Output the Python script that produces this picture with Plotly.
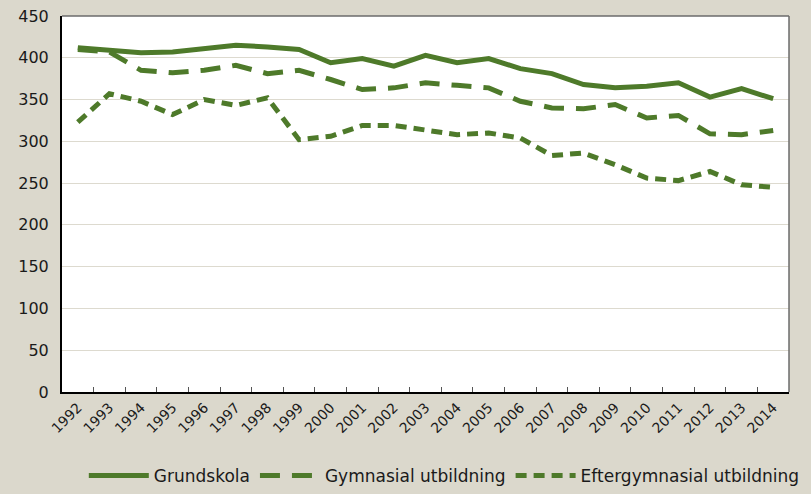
import plotly.graph_objects as go

years = [str(y) for y in range(1992, 2015)]

grundskola = [412, 409, 406, 407, 411, 415, 413, 410, 394, 399, 390, 403, 394, 399,
              387, 381, 368, 364, 366, 370, 353, 363, 351]
gymnasial = [410, 407, 385, 382, 385, 391, 381, 385, 374, 362, 364, 370, 367, 364,
             348, 340, 339, 344, 328, 331, 309, 308, 313]
eftergymnasial = [323, 357, 348, 332, 350, 343, 352, 302, 306, 319, 319, 314, 308, 310,
                  304, 283, 286, 272, 256, 253, 264, 248, 245]

green = "#4E7A2A"
bg = "#DBD8CC"
font = "DejaVu Sans"

fig = go.Figure()
fig.add_trace(go.Scatter(x=years, y=grundskola, mode="lines", name="Grundskola",
                         line=dict(color=green, width=5)))
fig.add_trace(go.Scatter(x=years, y=gymnasial, mode="lines", name="Gymnasial utbildning",
                         line=dict(color=green, width=5, dash="20px,12px")))
fig.add_trace(go.Scatter(x=years, y=eftergymnasial, mode="lines", name="Eftergymnasial utbildning",
                         line=dict(color=green, width=5, dash="11px,7px")))

fig.update_layout(
    width=811, height=494,
    paper_bgcolor=bg, plot_bgcolor="white",
    margin=dict(l=62, r=22, t=16, b=102),
    font=dict(family=font, size=16, color="#1a1a1a"),
    showlegend=True,
    legend=dict(orientation="h", x=0.03, xanchor="left", yref="container", y=0.0,
                yanchor="bottom", font=dict(size=17), bgcolor="rgba(0,0,0,0)",
                itemwidth=60),
)
fig.update_xaxes(
    type="category", tickangle=-45, tickson="boundaries", ticks="inside", ticklen=5,
    tickcolor="#555", showline=True, linecolor="black", linewidth=2,
    showgrid=False, tickfont=dict(size=14), range=[-0.5, 22.5], automargin=False,
)
fig.update_yaxes(
    range=[0, 450], dtick=50, showgrid=True, gridcolor="#DDDACF", gridwidth=1,
    showline=True, linecolor="black", linewidth=2, ticks="", zeroline=False,
    tickfont=dict(size=16), automargin=False, ticklabelstandoff=8,
)
# thin grey frame on top and right of the plot area
fig.add_shape(type="line", xref="paper", yref="paper", x0=0, x1=1, y0=1, y1=1,
              line=dict(color="#6b6b6b", width=1.5))
fig.add_shape(type="line", xref="paper", yref="paper", x0=1, x1=1, y0=0, y1=1,
              line=dict(color="#6b6b6b", width=1.5))

fig.write_html("out.html", config={"displayModeBar": False},
               post_script="document.body.style.margin='0px';")
